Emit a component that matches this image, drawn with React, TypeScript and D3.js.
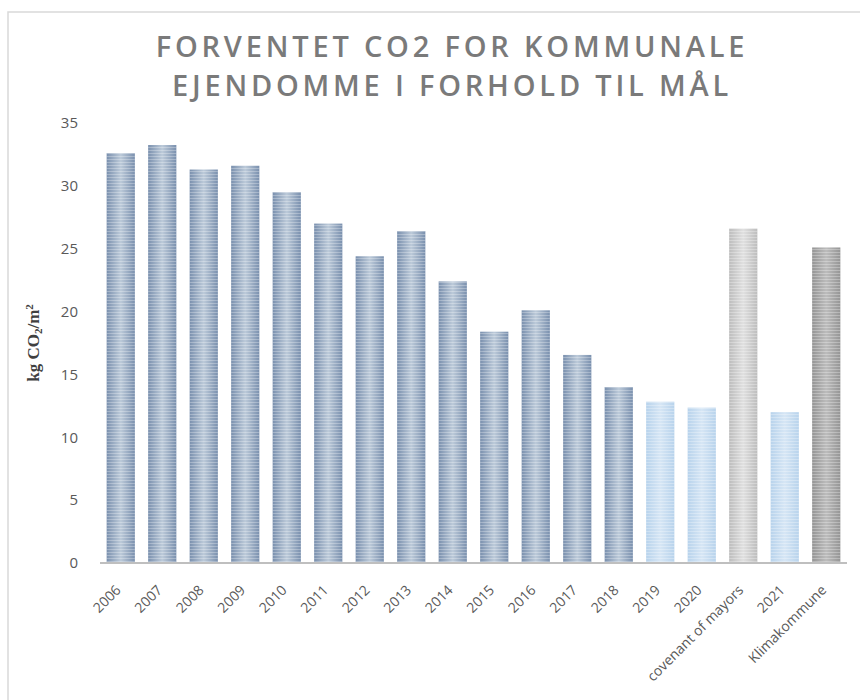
import React from "react";
import * as d3 from "d3";

const categories = [
  "2006", "2007", "2008", "2009", "2010", "2011", "2012", "2013", "2014",
  "2015", "2016", "2017", "2018", "2019", "2020", "covenant of mayors", "2021", "Klimakommune",
];
const values = [
  32.6, 33.25, 31.3, 31.6, 29.5, 27.0, 24.4, 26.4, 22.4,
  18.4, 20.1, 16.55, 14.0, 12.83, 12.36, 26.6, 12.0, 25.1,
];
const kinds = [
  "actual", "actual", "actual", "actual", "actual", "actual", "actual", "actual", "actual",
  "actual", "actual", "actual", "actual", "forecast", "forecast", "covenant", "forecast", "klima",
];
const yTicks = [0, 5, 10, 15, 20, 25, 30, 35];
const titleLines = ["FORVENTET CO2 FOR KOMMUNALE", "EJENDOMME I FORHOLD TIL MÅL"];

// edge / centre colours for each bar kind
const palette: Record<string, [string, string]> = {
  actual: ["#7a90ae", "#bccad9"],
  forecast: ["#b8d3ec", "#d6e6f5"],
  covenant: ["#bdbdbd", "#e0e0e0"],
  klima: ["#959595", "#bcbcbc"],
};

const App = () => {
  const width = 860;
  const height = 700;
  const margin = { top: 123, left: 100, right: 847, bottom: 563 };

  const x = d3
    .scaleBand()
    .domain(categories)
    .range([margin.left, margin.right])
    .paddingInner(0.32)
    .paddingOuter(0.16);

  const y = d3.scaleLinear().domain([0, 35]).range([margin.bottom, margin.top]);

  return (
    <svg
      width={width}
      height={height}
      style={{ position: "absolute", left: 0, top: 0, background: "#fff" }}
    >
      <defs>
        {Object.keys(palette).map(k => (
          <linearGradient key={k} id={"grad-" + k} x1="0" x2="1" y1="0" y2="0">
            <stop offset="0" stopColor={palette[k][0]} />
            <stop offset="0.5" stopColor={palette[k][1]} />
            <stop offset="1" stopColor={palette[k][0]} />
          </linearGradient>
        ))}
        <pattern id="stripes" width="4" height="3" patternUnits="userSpaceOnUse">
          <rect x="0" y="0" width="4" height="1" fill="#ffffff" opacity="0.28" />
        </pattern>
      </defs>

      <rect x={8} y={12} width={900} height={800} fill="#fff" stroke="#d9d9d9" strokeWidth={1.5} />

      {titleLines.map((t, i) => (
        <text
          key={i}
          x={452}
          y={57 + i * 39}
          textAnchor="middle"
          fontFamily="'Open Sans', sans-serif"
          fontWeight={600}
          fontSize={29}
          letterSpacing={3.8}
          fill="#7a7a7a"
        >
          {t}
        </text>
      ))}

      <text
        transform={`translate(39 ${(margin.top + margin.bottom) / 2}) rotate(-90)`}
        textAnchor="middle"
        fontFamily="'Liberation Serif', serif"
        fontWeight="bold"
        fontSize={17}
        fill="#404040"
      >
        kg CO<tspan fontSize={11} dy={3}>2</tspan>
        <tspan dy={-3}>/m</tspan>
        <tspan fontSize={11} dy={-6}>2</tspan>
      </text>

      {yTicks.map(t => (
        <text
          key={t}
          x={78}
          y={y(t)}
          dy="0.35em"
          textAnchor="end"
          fontFamily="'Open Sans', sans-serif"
          fontSize={15}
          fill="#595959"
        >
          {t}
        </text>
      ))}

      {categories.map((c, i) => (
        <g key={c}>
          <rect
            x={x(c)}
            y={y(values[i])}
            width={x.bandwidth()}
            height={y(0) - y(values[i])}
            fill={`url(#grad-${kinds[i]})`}
          />
          <rect
            x={x(c)}
            y={y(values[i])}
            width={x.bandwidth()}
            height={y(0) - y(values[i])}
            fill="url(#stripes)"
          />
        </g>
      ))}

      <line
        x1={margin.left}
        x2={margin.right}
        y1={y(0)}
        y2={y(0)}
        stroke="#bfbfbf"
        strokeWidth={2}
      />

      {categories.map(c => (
        <text
          key={c}
          transform={`translate(${(x(c) as number) + x.bandwidth() / 2 + 1} ${y(0) + 28}) rotate(-45)`}
          textAnchor="end"
          fontFamily="'Open Sans', sans-serif"
          fontSize={14}
          fill="#595959"
        >
          {c}
        </text>
      ))}
    </svg>
  );
};

export default App;
